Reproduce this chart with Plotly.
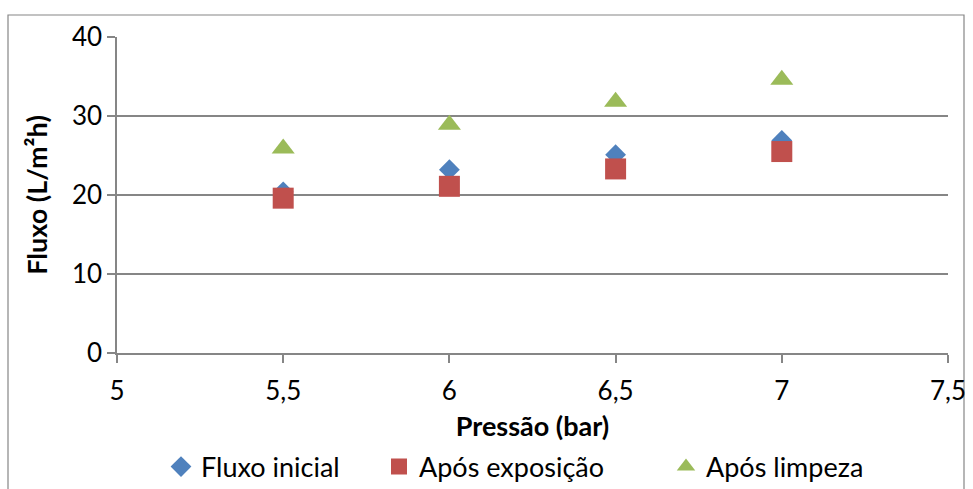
import plotly.graph_objects as go

pressao = [5.5, 6.0, 6.5, 7.0]
fluxo_inicial = [20.4, 23.2, 25.1, 26.9]
apos_exposicao = [19.6, 21.1, 23.3, 25.5]
apos_limpeza = [25.9, 28.9, 31.8, 34.6]

series_names = ["Fluxo inicial", "Após exposição", "Após limpeza"]
colors = ["#4F81BD", "#C0504D", "#9BBB59"]
symbols = ["diamond", "square", "triangle-up"]
legend_ids = ["legend", "legend2", "legend3"]
legend_marker_x = [183, 401, 688]

fig = go.Figure()
for name, vals, c, s, sz, lg in zip(series_names, [fluxo_inicial, apos_exposicao, apos_limpeza],
                                    colors, symbols, [16, 21, 20], legend_ids):
    fig.add_trace(go.Scatter(x=pressao, y=vals, mode="markers", name=name, legend=lg,
                             marker=dict(color=c, symbol=s, size=sz, line=dict(width=0))))

font = "Lato, 'Open Sans', sans-serif"
legend_layout = {}
for lg, mx in zip(legend_ids, legend_marker_x):
    legend_layout[lg] = dict(orientation="h", xref="container", yref="container",
                             x=(mx - 22) / 973, xanchor="left",
                             y=(489 - 467) / 489, yanchor="middle",
                             font=dict(size=27), itemwidth=30, bgcolor="rgba(0,0,0,0)")

fig.update_layout(
    width=973, height=489,
    margin=dict(l=117, r=25, t=37, b=136, autoexpand=False),
    paper_bgcolor="white", plot_bgcolor="white",
    separators=",.",
    font=dict(family=font, size=26, color="black"),
    showlegend=True,
    xaxis=dict(range=[5, 7.5], dtick=0.5, tick0=5, showgrid=False, zeroline=False,
               showline=True, linecolor="#868686", linewidth=1.5,
               ticks="outside", ticklen=8, tickcolor="#868686", tickwidth=1.5,
               ticklabelstandoff=6,
               title=dict(text="<b>Pressão (bar)</b>", font=dict(size=27), standoff=22),
               tickfont=dict(size=26)),
    yaxis=dict(range=[0, 40], dtick=10, showgrid=True, gridcolor="#868686", gridwidth=1.5,
               zeroline=False, showline=True, linecolor="#868686", linewidth=1.5,
               ticks="outside", ticklen=8, tickcolor="#868686", tickwidth=1.5,
               title=dict(text="<b>Fluxo (L/m²h)</b>", font=dict(size=27), standoff=16),
               tickfont=dict(size=26)),
    shapes=[dict(type="rect", xref="paper", yref="paper",
                 x0=(8 - 117) / 831, x1=(964 - 117) / 831,
                 y0=-0.6, y1=(353 - 15) / 316,
                 line=dict(color="#868686", width=1.2), layer="below")],
    **legend_layout,
)

fig.write_html("out.html")
